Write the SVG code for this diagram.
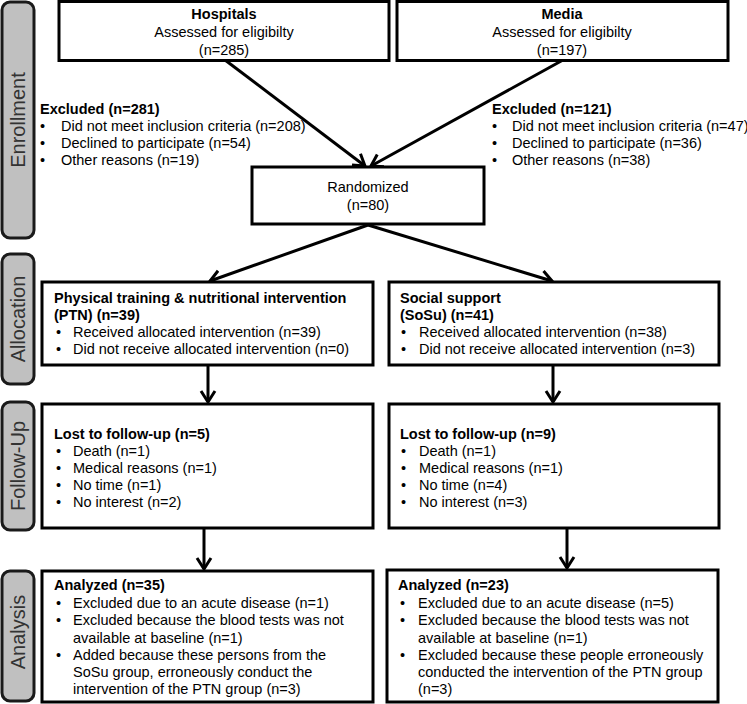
<svg xmlns="http://www.w3.org/2000/svg" width="747" height="704" viewBox="0 0 747 704">
<defs>
<marker id="arr" markerUnits="userSpaceOnUse" markerWidth="24" markerHeight="24" refX="12" refY="12" orient="auto" viewBox="0 0 24 24">
<path d="M1,5 L12,12 L1,19" fill="none" stroke="#000" stroke-width="3"/>
</marker>
<style>
text{font-family:"Liberation Sans",Arial,sans-serif;font-size:14.5px;fill:#000}
.b{font-weight:bold}
.c{text-anchor:middle}
.box{fill:#fff;stroke:#000;stroke-width:3}
.side{fill:#c0c0c0;stroke:#1a1a1a;stroke-width:3}
.st{font-size:20px;fill:#333;text-anchor:middle}
.con line{stroke:#000;stroke-width:3;marker-end:url(#arr)}
</style>
</defs>
<rect width="747" height="704" fill="#fff"/>

<g id="side-enrollment"><rect class="side" x="2" y="2" width="32" height="236" rx="8"/><text class="st" transform="translate(25,120) rotate(-90)">Enrollment</text></g>
<g id="side-allocation"><rect class="side" x="2" y="254" width="32" height="130" rx="8"/><text class="st" transform="translate(25,319) rotate(-90)">Allocation</text></g>
<g id="side-followup"><rect class="side" x="2" y="402" width="32" height="128" rx="8"/><text class="st" transform="translate(25,466) rotate(-90)">Follow-Up</text></g>
<g id="side-analysis"><rect class="side" x="2" y="571" width="32" height="130" rx="8"/><text class="st" transform="translate(25,632) rotate(-90)">Analysis</text></g>

<g class="con" id="connectors">
<line x1="225" y1="60" x2="365" y2="166"/>
<line x1="563" y1="60" x2="371" y2="166"/>
<line x1="368" y1="225" x2="210" y2="281"/>
<line x1="368" y1="225" x2="552" y2="281"/>
<line x1="208" y1="365" x2="208" y2="402"/>
<line x1="553" y1="365" x2="553" y2="402"/>
<line x1="204" y1="528" x2="204" y2="569"/>
<line x1="567" y1="528" x2="567" y2="568"/>
</g>

<g id="hospitals"><rect class="box" x="59" y="1.5" width="330" height="59"/>
<text class="c b" x="224" y="19">Hospitals</text>
<text class="c" x="224" y="37">Assessed for eligibilty</text>
<text class="c" x="224" y="55">(n=285)</text></g>

<g id="media"><rect class="box" x="397" y="1.5" width="331" height="59"/>
<text class="c b" x="562" y="19">Media</text>
<text class="c" x="562" y="37">Assessed for eligibilty</text>
<text class="c" x="562" y="55">(n=197)</text></g>

<g id="excluded-left">
<text class="b" x="40" y="114">Excluded (n=281)</text>
<text x="40" y="131">•</text><text x="61" y="131">Did not meet inclusion criteria (n=208)</text>
<text x="40" y="148">•</text><text x="61" y="148">Declined to participate (n=54)</text>
<text x="40" y="165">•</text><text x="61" y="165">Other reasons (n=19)</text>
</g>

<g id="excluded-right">
<text class="b" x="492" y="114">Excluded (n=121)</text>
<text x="492" y="131">•</text><text x="512" y="131">Did not meet inclusion criteria (n=47)</text>
<text x="492" y="148">•</text><text x="512" y="148">Declined to participate (n=36)</text>
<text x="492" y="165">•</text><text x="512" y="165">Other reasons (n=38)</text>
</g>

<g id="randomized"><rect class="box" x="252" y="167" width="232" height="57"/>
<text class="c" x="368" y="192">Randomized</text>
<text class="c" x="368" y="210">(n=80)</text></g>

<g id="ptn"><rect class="box" x="42" y="282" width="331" height="83"/>
<text class="b" x="54" y="303">Physical training &amp; nutritional intervention</text>
<text class="b" x="54" y="320">(PTN) (n=39)</text>
<text x="56" y="337">•</text><text x="73" y="337">Received allocated intervention (n=39)</text>
<text x="56" y="354">•</text><text x="73" y="354">Did not receive allocated intervention (n=0)</text></g>

<g id="sosu"><rect class="box" x="389" y="282" width="330" height="83"/>
<text class="b" x="400" y="303">Social support</text>
<text class="b" x="400" y="320">(SoSu) (n=41)</text>
<text x="401" y="337">•</text><text x="419" y="337">Received allocated intervention (n=38)</text>
<text x="401" y="354">•</text><text x="419" y="354">Did not receive allocated intervention (n=3)</text></g>

<g id="lost-ptn"><rect class="box" x="42" y="404" width="331" height="124"/>
<text class="b" x="54" y="439">Lost to follow-up (n=5)</text>
<text x="56" y="456">•</text><text x="73" y="456">Death (n=1)</text>
<text x="56" y="473">•</text><text x="73" y="473">Medical reasons (n=1)</text>
<text x="56" y="490">•</text><text x="73" y="490">No time (n=1)</text>
<text x="56" y="507">•</text><text x="73" y="507">No interest (n=2)</text></g>

<g id="lost-sosu"><rect class="box" x="389" y="404" width="330" height="124"/>
<text class="b" x="400" y="439">Lost to follow-up (n=9)</text>
<text x="401" y="456">•</text><text x="419" y="456">Death (n=1)</text>
<text x="401" y="473">•</text><text x="419" y="473">Medical reasons (n=1)</text>
<text x="401" y="490">•</text><text x="419" y="490">No time (n=4)</text>
<text x="401" y="507">•</text><text x="419" y="507">No interest (n=3)</text></g>

<g id="analysis-ptn"><rect class="box" x="42" y="571" width="331" height="131"/>
<text class="b" x="54" y="590">Analyzed (n=35)</text>
<text x="56" y="608">•</text><text x="73" y="608">Excluded due to an acute disease (n=1)</text>
<text x="56" y="625">•</text><text x="73" y="625">Excluded because the blood tests was not</text>
<text x="73" y="643">available at baseline (n=1)</text>
<text x="56" y="660">•</text><text x="73" y="660">Added because these persons from the</text>
<text x="73" y="677">SoSu group, erroneously conduct the</text>
<text x="73" y="694">intervention of the PTN group (n=3)</text></g>

<g id="analysis-sosu"><rect class="box" x="387" y="570" width="331" height="132"/>
<text class="b" x="398" y="590">Analyzed (n=23)</text>
<text x="400" y="608">•</text><text x="418" y="608">Excluded due to an acute disease (n=5)</text>
<text x="400" y="625">•</text><text x="418" y="625">Excluded because the blood tests was not</text>
<text x="418" y="643">available at baseline (n=1)</text>
<text x="400" y="660">•</text><text x="418" y="660">Excluded because these people erroneously</text>
<text x="418" y="677">conducted the intervention of the PTN group</text>
<text x="418" y="694">(n=3)</text></g>
</svg>
